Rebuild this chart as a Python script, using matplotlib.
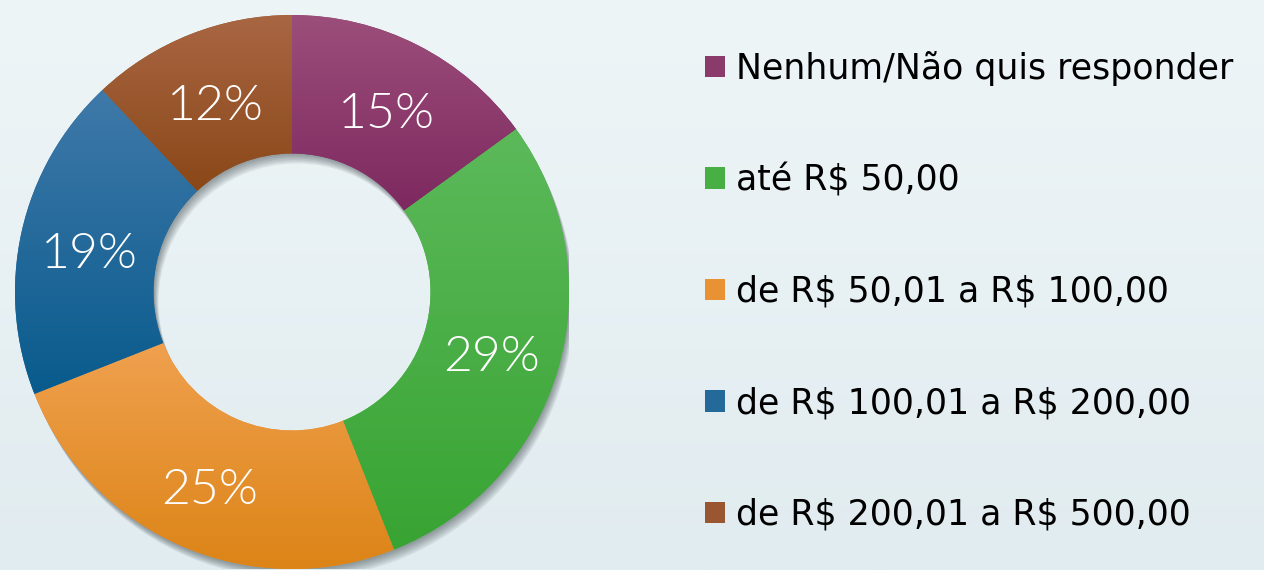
import numpy as np
import matplotlib
matplotlib.use('Agg')
import matplotlib.pyplot as plt
from matplotlib.patches import Patch, Wedge
from matplotlib.colors import LinearSegmentedColormap
from matplotlib.transforms import offset_copy

# data
categories = ["Nenhum/Não quis responder", "até R\\$ 50,00", "de R\\$ 50,01 a R\\$ 100,00",
              "de R\\$ 100,01 a R\\$ 200,00", "de R\\$ 200,01 a R\\$ 500,00"]
shares = [15, 29, 25, 19, 12]
top_colors = ["#9C4E7A", "#5CB95A", "#F0A14F", "#3F79A9", "#A96643"]
bottom_colors = ["#7D2960", "#38A433", "#DC8417", "#095B8D", "#8A4818"]
mid_colors = ["#8B3A6C", "#48AF45", "#E89234", "#236A9B", "#995630"]

W, H = 1264, 570
fig = plt.figure(figsize=(W / 100, H / 100), dpi=100)

# soft background gradient
bg = fig.add_axes([0, 0, 1, 1], zorder=0)
bg.imshow(np.linspace(0, 1, 256).reshape(-1, 1), aspect='auto', extent=[0, 1, 0, 1],
          cmap=LinearSegmentedColormap.from_list('bg', ['#EEF5F7', '#E1ECF0']))
bg.axis('off')

ax = fig.add_axes([15 / W, 1 / H, 554 / W, 554 / H], zorder=1)
ax.patch.set_visible(False)

# drop shadow: offset rings, mostly downward
for k in range(1, 7):
    ax.add_patch(Wedge((0.003 * k, -0.006 * k), 1.0, 0, 360, width=0.5,
                       facecolor='#2b3538', alpha=0.09, linewidth=0))

wedges, _ = ax.pie(shares, startangle=90, counterclock=False, radius=1.0,
                   colors=mid_colors, wedgeprops=dict(width=0.5, linewidth=0))

# vertical gradient inside each wedge
for w, c0, c1 in zip(wedges, top_colors, bottom_colors):
    ext = w.get_path().get_extents()
    cmap = LinearSegmentedColormap.from_list('seg', [c0, c1])
    im = ax.imshow(np.linspace(0, 1, 128).reshape(-1, 1), cmap=cmap, aspect='auto',
                   extent=[ext.x0, ext.x1, ext.y0, ext.y1], zorder=2)
    im.set_clip_path(w)

# percentage labels in the middle of the ring (nudged down so digits sit centred)
lbl_tr = offset_copy(ax.transData, fig=fig, x=0, y=-8, units='dots')
start = 90.0
total = sum(shares)
for s in shares:
    mid = np.deg2rad(start - 360.0 * s / total / 2)
    r = 0.75
    ax.text(r * np.cos(mid), r * np.sin(mid), f"{s}%", color='white', fontsize=36,
            ha='center', va='center', family=['Lato', 'DejaVu Sans'], fontweight=300,
            zorder=3, transform=lbl_tr)
    start -= 360.0 * s / total

ax.set_xlim(-1, 1)
ax.set_ylim(-1, 1)
ax.set_aspect('equal')
ax.axis('off')

handles = [Patch(facecolor=c, linewidth=0) for c in mid_colors]
fig.legend(handles, categories, loc='center left', bbox_to_anchor=(705 / W, 0.489),
           frameon=False, handlelength=0.58, handleheight=0.58,
           handletextpad=0.32, labelspacing=2.23, borderpad=0, borderaxespad=0,
           prop=dict(family=['DejaVu Sans'], size=25))

fig.savefig('out.png', dpi=100)
